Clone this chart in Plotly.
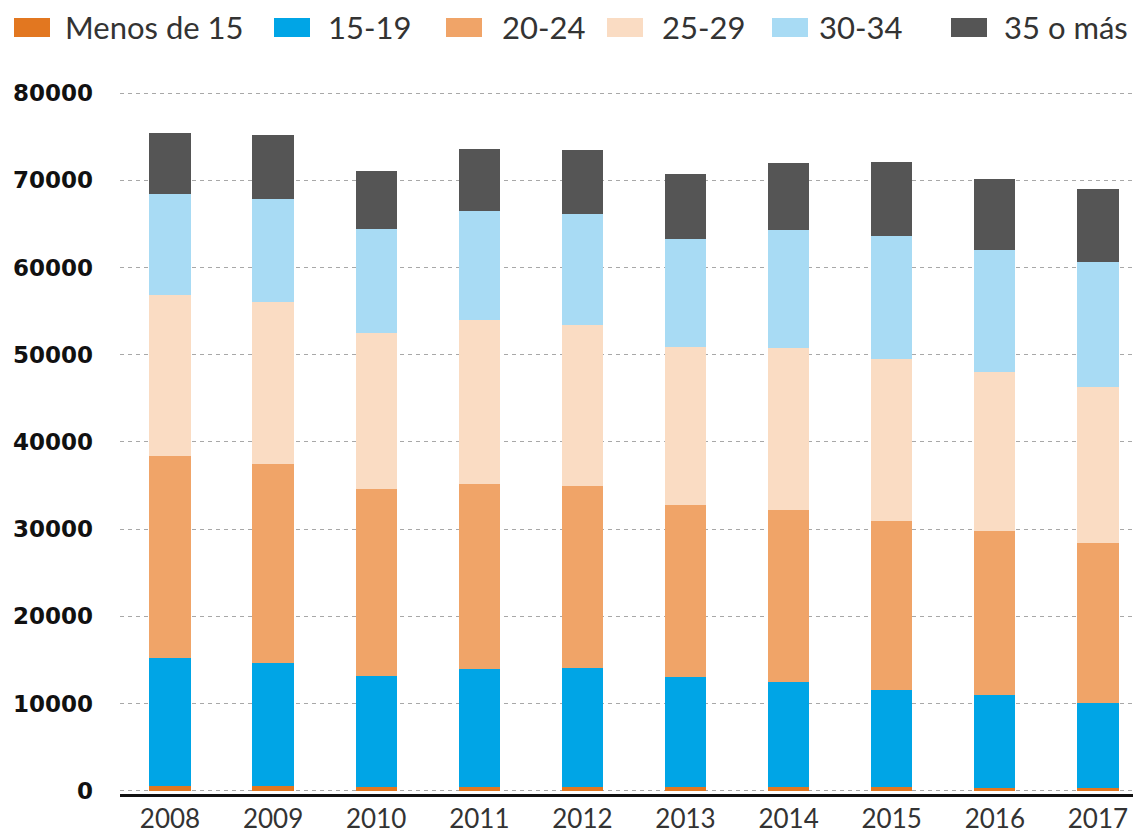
import plotly.graph_objects as go

# The page body has an 8px default margin, so the figure is sized to fill
# the 1141x833 window from (8, 8) and pixel positions are offset by 8.
OFF = 8
W, H = 1141 - OFF, 833 - OFF

years = ["2008", "2009", "2010", "2011", "2012", "2013", "2014", "2015", "2016", "2017"]
series_names = ["Menos de 15", "15-19", "20-24", "25-29", "30-34", "35 o más"]
menos15 = [500, 500, 450, 450, 450, 400, 400, 400, 350, 350]
a15_19 = [14700, 14150, 12700, 13500, 13600, 12650, 12050, 11150, 10600, 9700]
a20_24 = [23150, 22800, 21450, 21200, 20850, 19700, 19700, 19400, 18800, 18350]
a25_29 = [18450, 18600, 17900, 18800, 18450, 18100, 18600, 18600, 18250, 17900]
a30_34 = [11600, 11800, 11900, 12500, 12750, 12400, 13550, 14000, 14000, 14350]
a35plus = [7000, 7350, 6650, 7100, 7350, 7450, 7700, 8500, 8150, 8350]
y_ticks = [0, 10000, 20000, 30000, 40000, 50000, 60000, 70000, 80000]

series_values = [menos15, a15_19, a20_24, a25_29, a30_34, a35plus]
colors = ["#E27720", "#00A5E6", "#F0A468", "#FADCC3", "#A8DBF4", "#555555"]


def px_x(p):
    return (p - OFF) / W


def px_y(p):
    return 1 - (p - OFF) / H


fig = go.Figure()
for name, vals, col in zip(series_names, series_values, colors):
    fig.add_trace(go.Bar(
        x=years, y=vals, name=name, marker=dict(color=col, line=dict(width=0)),
        width=0.4, showlegend=False,
    ))

# custom legend (swatches + labels)
sw_left = [14, 274, 446, 607, 772, 951]
txt_left = [63, 326, 500, 660, 817, 1002]
shapes = []
annotations = []
for name, col, sx, tx in zip(series_names, colors, sw_left, txt_left):
    shapes.append(dict(type="rect", xref="paper", yref="paper",
                       x0=px_x(sx), x1=px_x(sx + 36),
                       y0=px_y(37), y1=px_y(18),
                       fillcolor=col, line=dict(width=0)))
    annotations.append(dict(xref="paper", yref="paper", x=px_x(tx), y=px_y(27),
                            xanchor="left", yanchor="middle", showarrow=False,
                            text=name, font=dict(family="Lato", size=31, color="#333333")))

fig.update_layout(
    width=W, height=H,
    margin=dict(l=0, r=0, t=0, b=0),
    paper_bgcolor="white", plot_bgcolor="white",
    barmode="stack",
    showlegend=False,
    shapes=shapes,
    annotations=annotations,
    xaxis=dict(
        domain=[px_x(120), 1], type="category", range=[-0.485, 9.418],
        showline=True, linecolor="#111111", linewidth=3,
        showgrid=False, ticks="", automargin=False,
        ticklabelstandoff=0,
        tickfont=dict(family="Lato", size=26, color="#333333"),
    ),
    yaxis=dict(
        domain=[px_y(794), px_y(88)], range=[-378, 80576],
        tickvals=y_ticks, ticktext=[str(v) for v in y_ticks],
        showgrid=True, gridcolor="#a8a8a8", gridwidth=1, griddash="4px,4px",
        zeroline=False, showline=False, ticks="", automargin=False,
        ticklabelstandoff=26,
        tickfont=dict(family="DejaVu Sans", size=23, color="#111111", weight="bold"),
    ),
)

fig.write_html("out.html")
